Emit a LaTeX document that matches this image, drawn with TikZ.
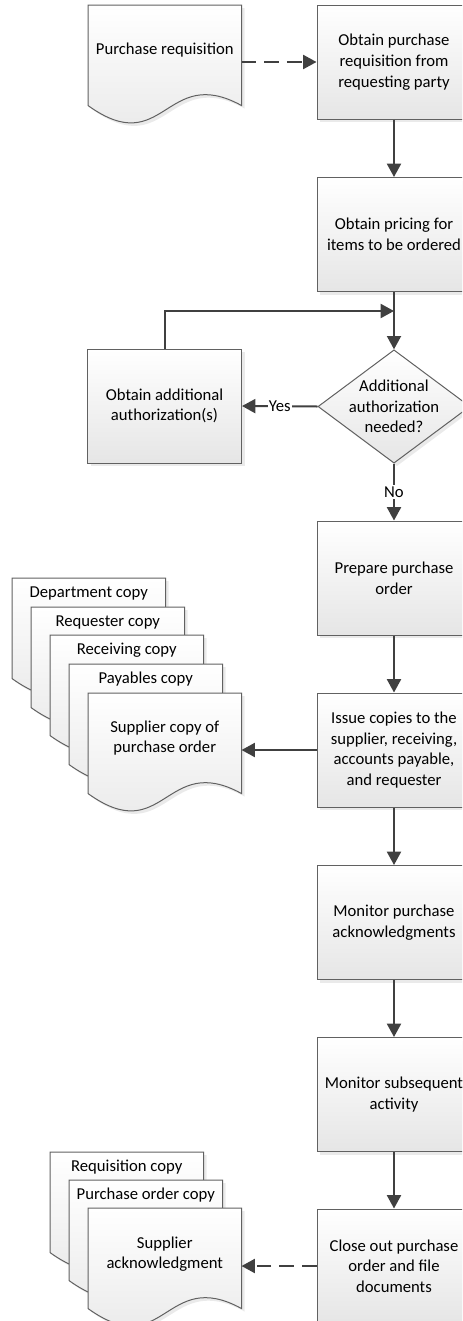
\documentclass[tikz,border=0pt]{standalone}
\usepackage{fontspec}
\setmainfont{Carlito}
\usetikzlibrary{arrows.meta,shadows,calc,shapes.geometric}

\newcommand\flowfont{\fontsize{12.5pt}{15.5pt}\selectfont}

\tikzset{
  shapefill/.style={draw=black!62, line width=0.75pt, top color=white, bottom color=black!10,
    drop shadow={shadow xshift=2.25pt, shadow yshift=-2.25pt, fill=black!16}},
  stepbox/.style={shapefill, rectangle, minimum width=115.5pt, minimum height=85.5pt,
    inner sep=0pt, align=center, font=\flowfont},
  decision/.style={shapefill, diamond, minimum width=114pt, minimum height=85pt, inner sep=0pt},
  paperarea/.style={rectangle, minimum width=114.75pt, minimum height=75pt, inner sep=0pt, anchor=north west},
  papertext/.style={align=center, inner sep=0pt, font=\flowfont},
  flow/.style={draw=black!75, line width=1.5pt, -{Triangle[length=10pt,width=10.5pt]}},
  dashflow/.style={flow, dash pattern=on 11pt off 6pt},
  tag/.style={fill=white, inner sep=1pt, font=\flowfont},
}

% paper document: name, left x, top y, text offset from top, text
\newcommand\paperdoc[5]{%
  \node[paperarea] (#1) at (#2,#3) {};
  \path[shapefill] (#1.north west) -- (#1.north east) -- (#1.south east)
    .. controls +(-76.5,-42) and +(76.5,55) .. (#1.south west) -- cycle;
  \node[papertext] (#1-label) at ($(#1.north)+(0,#4)$) {#5};
}

\begin{document}
\begin{tikzpicture}[x=0.75pt,y=-0.75pt]
\useasboundingbox (0,0) rectangle (462,1321);
\clip (0,0) rectangle (462,1321);

% main process column
\node[stepbox] (s1) at (394,62) {Obtain purchase\\requisition from\\requesting party};
\node[stepbox] (s2) at (394,234.5) {Obtain pricing for\\items to be ordered};
\node[decision] (dia) at (394,406.5)
  [label={[align=center, font=\flowfont]center:Additional\\authorization\\needed?}] {};
\node[stepbox] (aa) at (164.5,406) {Obtain additional\\authorization(s)};
\node[stepbox] (s3) at (394,578) {Prepare purchase\\order};
\node[stepbox] (s4) at (394,750) {Issue copies to the\\supplier, receiving,\\accounts payable,\\and requester};
\node[stepbox] (s5) at (394,922.5) {Monitor purchase\\acknowledgments};
\node[stepbox] (s6) at (394,1094.5) {Monitor subsequent\\activity};
\node[stepbox] (s7) at (394,1266) {Close out purchase\\order and file\\documents};
\coordinate (merge) at (394,311);

% documents
\paperdoc{req}{88}{5}{45}{Purchase requisition}

\paperdoc{dept}{12}{578}{15}{Department copy}
\paperdoc{rqc}{31}{607}{15}{Requester copy}
\paperdoc{rcv}{50}{635}{15}{Receiving copy}
\paperdoc{pay}{69}{664}{15}{Payables copy}
\paperdoc{sup}{88}{693}{45}{Supplier copy of\\purchase order}

\paperdoc{rqn}{50}{1152}{15}{Requisition copy}
\paperdoc{poc}{69}{1180}{15}{Purchase order copy}
\paperdoc{ack}{88}{1208}{46}{Supplier\\acknowledgment}

% connectors
\draw[dashflow] (req.east |- s1.west) -- (s1.west);
\draw[flow] (s1.south) -- (s2.north);
\draw[flow] (s2.south) -- (dia.north);
\draw[flow] (aa.north) |- (merge);
\draw[flow] (dia.west) -- node[tag] (yes) {Yes} (aa.east);
\draw[flow] (dia.south) -- node[tag] (no) {No} (s3.north);
\draw[flow] (s3.south) -- (s4.north);
\draw[flow] (s4.west) -- (sup.east |- s4.west);
\draw[flow] (s4.south) -- (s5.north);
\draw[flow] (s5.south) -- (s6.north);
\draw[flow] (s6.south) -- (s7.north);
\draw[dashflow] (s7.west) -- (ack.east |- s7.west);
\end{tikzpicture}
\end{document}
